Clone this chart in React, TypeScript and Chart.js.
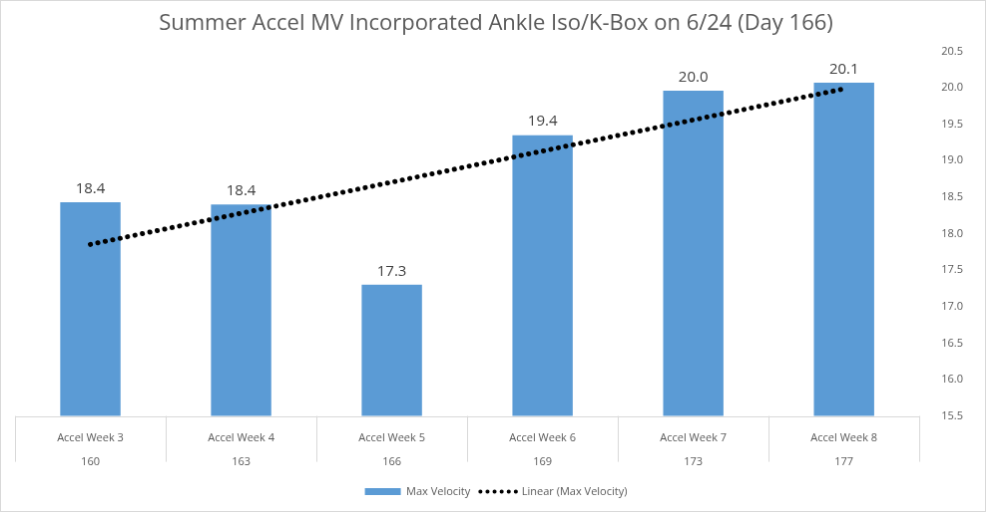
import React, { useEffect, useRef } from "react";
import { Chart, registerables } from "chart.js";
Chart.register(...registerables);

const categories = ["Accel Week 3", "Accel Week 4", "Accel Week 5", "Accel Week 6", "Accel Week 7", "Accel Week 8"];
const days = ["160", "163", "166", "169", "173", "177"];
const maxVelocity = [18.43, 18.4, 17.3, 19.35, 19.96, 20.07];

function linearTrend(v: number[]) {
  const n = v.length;
  const mx = (n - 1) / 2;
  const my = v.reduce((a, b) => a + b, 0) / n;
  let num = 0, den = 0;
  v.forEach((y, i) => { num += (i - mx) * (y - my); den += (i - mx) ** 2; });
  const s = num / den;
  return v.map((_, i) => my + s * (i - mx));
}
const trend = linearTrend(maxVelocity);

const labelsPlugin = {
  id: "extras",
  afterDatasetsDraw(chart: any) {
    const ctx = chart.ctx;
    const meta = chart.getDatasetMeta(0);
    ctx.save();
    ctx.fillStyle = "#404040";
    ctx.font = "15px 'Open Sans', 'Noto Sans', sans-serif";
    ctx.textAlign = "center";
    ctx.textBaseline = "bottom";
    meta.data.forEach((bar: any, i: number) => {
      ctx.fillText(maxVelocity[i].toFixed(1), bar.x, bar.y - 6);
    });
    const area = chart.chartArea;
    ctx.strokeStyle = "#d9d9d9";
    ctx.lineWidth = 1;
    const w = (area.right - area.left) / categories.length;
    for (let i = 0; i <= categories.length; i++) {
      const x = Math.round(area.left + i * w) + 0.5;
      ctx.beginPath();
      ctx.moveTo(x, area.bottom);
      ctx.lineTo(x, area.bottom + 46);
      ctx.stroke();
    }
    ctx.beginPath();
    ctx.moveTo(area.left, Math.round(area.bottom) + 0.5);
    ctx.lineTo(area.right, Math.round(area.bottom) + 0.5);
    ctx.stroke();
    ctx.restore();
  },
};

export default function App() {
  const ref = useRef<HTMLCanvasElement>(null);
  useEffect(() => {
    document.body.style.margin = "0";
    const font = "'Open Sans', 'Noto Sans', sans-serif";
    const chart = new Chart(ref.current!, {
      type: "bar",
      data: {
        labels: categories.map((c, i) => [c, days[i]]),
        datasets: [
          {
            type: "bar",
            label: "Max Velocity",
            data: maxVelocity,
            backgroundColor: "#5b9bd5",
            categoryPercentage: 0.4,
            barPercentage: 1,
            order: 2,
          },
          {
            type: "line",
            label: "Linear (Max Velocity)",
            data: trend,
            borderColor: "#000000",
            borderWidth: 5,
            borderDash: [0.1, 7.5],
            borderCapStyle: "round",
            pointRadius: 0,
            fill: false,
            order: 1,
          } as any,
        ],
      },
      options: {
        animation: false,
        responsive: false,
        layout: { padding: { left: 14, right: 8, top: 0, bottom: 4 } },
        plugins: {
          title: {
            display: true,
            text: "Summer Accel MV Incorporated Ankle Iso/K-Box on 6/24 (Day 166)",
            color: "#595959",
            font: { size: 22, family: font, weight: "normal" },
            padding: { top: 10, bottom: 14 },
          },
          legend: {
            position: "bottom",
            labels: {
              color: "#595959",
              font: { size: 11, family: font },
              usePointStyle: true,
              pointStyleWidth: 36,
              boxHeight: 7,
              padding: 10,
              generateLabels: () => [
                { text: "Max Velocity", fillStyle: "#5b9bd5", strokeStyle: "#5b9bd5", lineWidth: 0, pointStyle: "rect", datasetIndex: 0, fontColor: "#595959" },
                { text: "Linear (Max Velocity)", fillStyle: "#000", strokeStyle: "#000", lineWidth: 4, lineDash: [0.1, 7], lineCap: "round", pointStyle: "line", datasetIndex: 1, fontColor: "#595959" },
              ],
            },
          },
          tooltip: { enabled: false },
        },
        scales: {
          x: {
            grid: { display: false },
            border: { display: false },
            ticks: { color: "#595959", font: { size: 11, family: font, lineHeight: 2.2 }, padding: 2, maxRotation: 0 },
          },
          y: {
            position: "right",
            min: 15.5,
            max: 20.5,
            grid: { display: false },
            border: { display: false },
            ticks: { stepSize: 0.5, color: "#595959", font: { size: 11, family: font }, padding: 14, callback: (v: any) => Number(v).toFixed(1) },
          },
        },
      },
      plugins: [labelsPlugin],
    });
    return () => chart.destroy();
  }, []);
  return (
    <canvas
      ref={ref}
      width={986}
      height={512}
      style={{ display: "block", border: "1px solid #d9d9d9", background: "#fff" }}
    />
  );
}
